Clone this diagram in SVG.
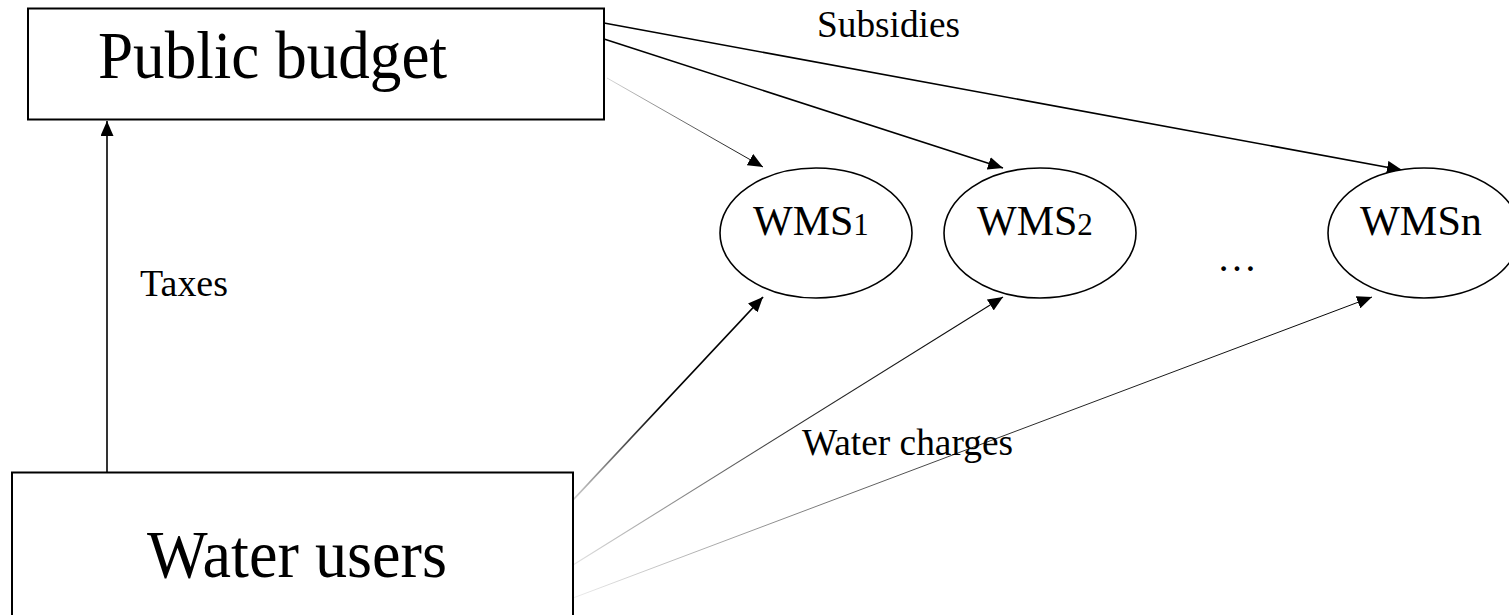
<svg xmlns="http://www.w3.org/2000/svg" width="1509" height="615" viewBox="0 0 1509 615">
  <style>
    .box { fill: #ffffff; stroke: #000000; stroke-width: 2; }
    .oval { fill: #ffffff; stroke: #000000; stroke-width: 1.6; }
    .txt { font-family: "Liberation Serif", "Times New Roman", serif; fill: #000000; }
    .big { font-size: 68px; }
    .mid { font-size: 42px; }
    .fig { font-size: 31px; }
    .lbl { font-size: 38px; }
    .edge { fill: none; stroke: #000000; stroke-width: 1.6; }
  </style>
  <defs>
    <marker id="head" markerUnits="userSpaceOnUse" markerWidth="16" markerHeight="13" refX="15" refY="6.5" orient="auto">
      <path d="M0,0 L15,6.5 L0,13 z" fill="#000000"/>
    </marker>
    <!-- strokes that fade in from the box they leave -->
    <linearGradient id="fadeS1" gradientUnits="userSpaceOnUse" x1="607" y1="78" x2="763" y2="167">
      <stop offset="0" stop-color="#d8d8d8"/>
      <stop offset="1" stop-color="#000000"/>
    </linearGradient>
    <linearGradient id="fadeW1" gradientUnits="userSpaceOnUse" x1="573" y1="500" x2="763" y2="297">
      <stop offset="0" stop-color="#d0d0d0"/>
      <stop offset="0.45" stop-color="#000000"/>
      <stop offset="1" stop-color="#000000"/>
    </linearGradient>
    <linearGradient id="fadeW2" gradientUnits="userSpaceOnUse" x1="573" y1="565" x2="1003" y2="297">
      <stop offset="0" stop-color="#e4e4e4"/>
      <stop offset="0.5" stop-color="#333333"/>
      <stop offset="1" stop-color="#000000"/>
    </linearGradient>
    <linearGradient id="fadeW3" gradientUnits="userSpaceOnUse" x1="573" y1="598" x2="1372" y2="297">
      <stop offset="0" stop-color="#ececec"/>
      <stop offset="0.5" stop-color="#333333"/>
      <stop offset="1" stop-color="#000000"/>
    </linearGradient>
  </defs>

  <!-- connectors -->
  <g id="connectors">
    <!-- taxes -->
    <line class="edge" x1="107" y1="472" x2="107" y2="121" marker-end="url(#head)"/>
    <!-- subsidies -->
    <line class="edge" x1="604" y1="23" x2="1402" y2="170" marker-end="url(#head)"/>
    <line class="edge" x1="604" y1="39" x2="1003" y2="168" marker-end="url(#head)"/>
    <line x1="607" y1="78" x2="763" y2="167" stroke="url(#fadeS1)" stroke-width="1" marker-end="url(#head)"/>
    <!-- water charges -->
    <line x1="573" y1="500" x2="763" y2="297" stroke="url(#fadeW1)" stroke-width="1.8" marker-end="url(#head)"/>
    <line x1="573" y1="565" x2="1003" y2="297" stroke="url(#fadeW2)" stroke-width="1.1" marker-end="url(#head)"/>
    <line x1="573" y1="598" x2="1372" y2="297" stroke="url(#fadeW3)" stroke-width="1" marker-end="url(#head)"/>
  </g>

  <g id="public-budget">
    <rect class="box" x="28" y="8.5" width="576" height="111"/>
    <text class="txt big" x="98" y="78" textLength="349" lengthAdjust="spacingAndGlyphs">Public budget</text>
  </g>

  <g id="water-users">
    <rect class="box" x="12" y="472.5" width="561" height="170"/>
    <text class="txt big" x="147" y="577" font-size="72" textLength="300" lengthAdjust="spacingAndGlyphs">Water users</text>
  </g>

  <g id="wms1">
    <ellipse class="oval" cx="816" cy="233" rx="96" ry="65"/>
    <text class="txt mid" x="753" y="235">WMS<tspan class="fig">1</tspan></text>
  </g>

  <g id="wms2">
    <ellipse class="oval" cx="1040" cy="233" rx="96" ry="65"/>
    <text class="txt mid" x="977" y="235">WMS<tspan class="fig">2</tspan></text>
  </g>

  <g id="wmsn">
    <ellipse class="oval" cx="1424" cy="233" rx="96" ry="65"/>
    <text class="txt mid" x="1360" y="235" textLength="122" lengthAdjust="spacingAndGlyphs">WMSn</text>
  </g>

  <g id="ellipsis">
    <text class="txt" x="1237" y="271" font-size="40" text-anchor="middle">…</text>
  </g>

  <g id="labels">
    <text class="txt lbl" x="817" y="37" textLength="143" lengthAdjust="spacingAndGlyphs">Subsidies</text>
    <text class="txt lbl" x="140" y="296" font-size="36" textLength="88" lengthAdjust="spacingAndGlyphs">Taxes</text>
    <text class="txt lbl" x="802" y="455" textLength="211" lengthAdjust="spacingAndGlyphs">Water charges</text>
  </g>
</svg>
